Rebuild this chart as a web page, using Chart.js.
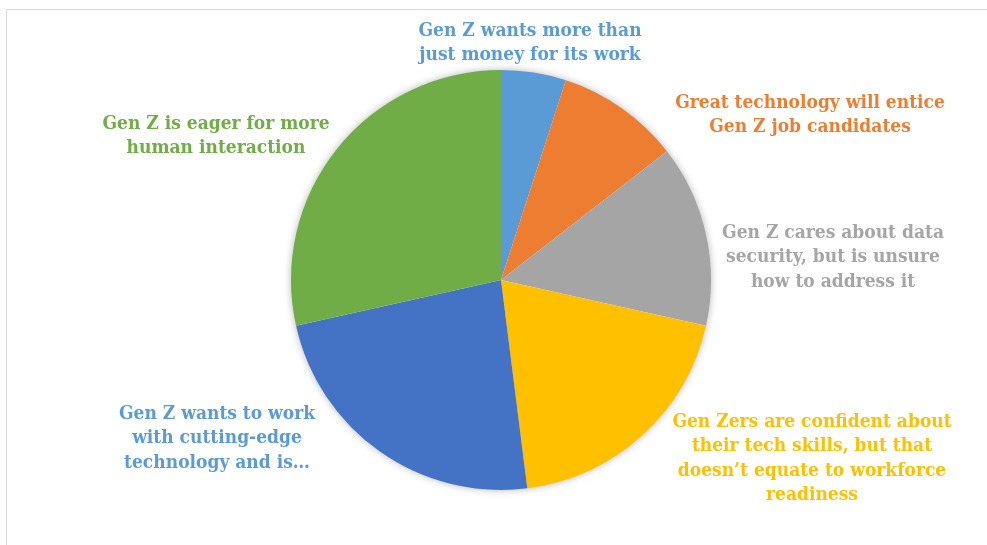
<!DOCTYPE html>
<html>
<head>
<meta charset="utf-8">
<script src="https://cdn.jsdelivr.net/npm/chart.js@4.4.0/dist/chart.umd.min.js"></script>
<style>
  body { margin: 0; background: #fff; }
  #wrap { width: 987px; height: 545px; }
</style>
</head>
<body>
<div id="wrap"><canvas id="genzChart" width="987" height="545"></canvas></div>
<script>
const labels = [
  'Gen Z wants more than just money for its work',
  'Great technology will entice Gen Z job candidates',
  'Gen Z cares about data security, but is unsure how to address it',
  'Gen Zers are confident about their tech skills, but that doesn\u2019t equate to workforce readiness',
  'Gen Z wants to work with cutting-edge technology and is\u2026',
  'Gen Z is eager for more human interaction'
];
const values = [5, 9.5, 14, 19.5, 23.5, 28.5];
const sliceColors = ['#5B9BD5', '#ED7D31', '#A5A5A5', '#FFC000', '#4472C4', '#70AD47'];
const labelColors = ['#5B9BD5', '#ED7D31', '#A5A5A5', '#FFC000', '#5B9BD5', '#70AD47'];
// wrapped lines as shown on the chart
const labelLines = [
  ['Gen Z wants more than', 'just money for its work'],
  ['Great technology will entice', 'Gen Z job candidates'],
  ['Gen Z cares about data', 'security, but is unsure', 'how to address it'],
  ['Gen Zers are confident about', 'their tech skills, but that', 'doesn\u2019t equate to workforce', 'readiness'],
  ['Gen Z wants to work', 'with cutting-edge', 'technology and is\u2026'],
  ['Gen Z is eager for more', 'human interaction']
];
// label centre (first line) relative to pie centre
const labelPos = [[29, -249], [309, -177], [332, -47], [311, 142], [-284, 134], [-285, -156]];

const frame = {
  id: 'frame',
  beforeDraw(chart) {
    const ctx = chart.ctx;
    ctx.save();
    ctx.strokeStyle = '#D9D9D9';
    ctx.lineWidth = 1;
    ctx.strokeRect(6.5, 9.5, 1200, 800);
    ctx.restore();
  },
  beforeDatasetsDraw(chart) {
    const arc = chart.getDatasetMeta(0).data[0];
    const ctx = chart.ctx;
    ctx.save();
    ctx.shadowColor = 'rgba(0,0,0,0.35)';
    ctx.shadowBlur = 9;
    ctx.fillStyle = '#fff';
    ctx.beginPath();
    ctx.arc(arc.x, arc.y, arc.outerRadius - 1, 0, Math.PI * 2);
    ctx.fill();
    ctx.restore();
  },
  afterDraw(chart) {
    const arc = chart.getDatasetMeta(0).data[0];
    const ctx = chart.ctx;
    ctx.save();
    ctx.font = 'bold condensed 19px "DejaVu Serif"';
    ctx.textAlign = 'center';
    ctx.textBaseline = 'middle';
    labelLines.forEach((lines, i) => {
      ctx.fillStyle = labelColors[i];
      lines.forEach((t, j) => {
        ctx.fillText(t, arc.x + labelPos[i][0], arc.y + labelPos[i][1] + j * 24.5);
      });
    });
    ctx.restore();
  }
};

new Chart(document.getElementById('genzChart'), {
  type: 'pie',
  data: {
    labels: labels,
    datasets: [{
      data: values,
      backgroundColor: sliceColors,
      borderWidth: 0,
      hoverOffset: 0
    }]
  },
  options: {
    responsive: false,
    animation: false,
    events: [],
    layout: { padding: { left: 291, right: 276, top: 70, bottom: 55 } },
    plugins: {
      legend: { display: false },
      tooltip: { enabled: false }
    }
  },
  plugins: [frame]
});
</script>
</body>
</html>
